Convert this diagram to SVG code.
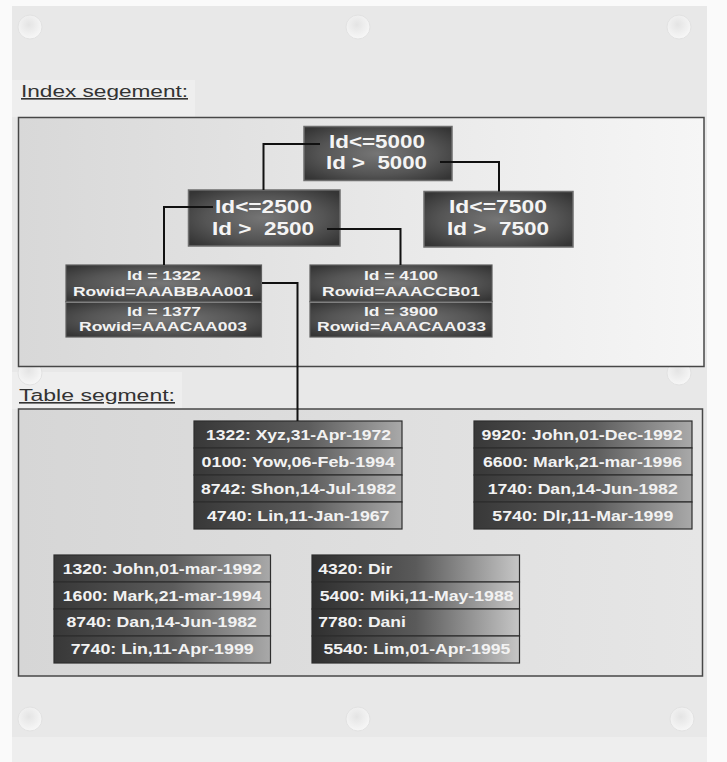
<svg xmlns="http://www.w3.org/2000/svg" width="727" height="762" viewBox="0 0 727 762">
<defs>
<style>
.lbl{font-family:"Liberation Sans",Arial,sans-serif;font-size:16px;fill:#333;text-decoration:underline}
.nt{font-family:"Liberation Sans",Arial,sans-serif;font-weight:bold;font-size:18px;fill:#f4f4f4;white-space:pre}
.lt{font-family:"Liberation Sans",Arial,sans-serif;font-weight:bold;font-size:13.5px;fill:#f2f2f2}
.tt{font-family:"Liberation Sans",Arial,sans-serif;font-weight:bold;font-size:14px;fill:#f2f2f2}
.node{fill:url(#rg);stroke:#6e6e6e;stroke-width:1.5}
.leaf{fill:url(#rg);stroke:#5e5e5e;stroke-width:1.2}
.row{fill:url(#lg);stroke:#2e2e2e;stroke-width:1.2}
.rowd{fill:url(#lgd);stroke:#2e2e2e;stroke-width:1.2}
.conn{fill:none;stroke:#111;stroke-width:2}
.bolt{fill:url(#bg);stroke:#e2e2e2;stroke-width:1}
</style>
<radialGradient id="rg" cx="50%" cy="50%" r="65%">
<stop offset="0" stop-color="#767676"/>
<stop offset="0.6" stop-color="#555"/>
<stop offset="1" stop-color="#353535"/>
</radialGradient>
<radialGradient id="bg" cx="45%" cy="40%" r="60%">
<stop offset="0" stop-color="#e4e4e4"/>
<stop offset="1" stop-color="#f7f7f7"/>
</radialGradient>
<linearGradient id="lg" x1="0" y1="0" x2="1" y2="0">
<stop offset="0" stop-color="#383838"/>
<stop offset="0.55" stop-color="#5c5c5c"/>
<stop offset="1" stop-color="#a9a9a9"/>
</linearGradient>
<linearGradient id="lgd" x1="0" y1="0" x2="1" y2="0">
<stop offset="0" stop-color="#2f2f2f"/>
<stop offset="0.5" stop-color="#5a5a5a"/>
<stop offset="1" stop-color="#c6c6c6"/>
</linearGradient>
<linearGradient id="boxg" x1="0" y1="0" x2="1" y2="0">
<stop offset="0" stop-color="#d8d8d8"/>
<stop offset="1" stop-color="#f6f6f6"/>
</linearGradient>
<linearGradient id="boxg2" x1="0" y1="0" x2="1" y2="0">
<stop offset="0" stop-color="#d6d6d6"/>
<stop offset="1" stop-color="#e6e6e6"/>
</linearGradient>
</defs>

<!-- background -->
<rect x="0" y="0" width="727" height="762" fill="#fafafa"/>
<rect x="12" y="6" width="695" height="756" fill="#e8e8e8"/>
<rect x="12" y="737" width="695" height="25" fill="#eeeeee"/>
<rect x="12" y="80" width="183" height="37" fill="#eeeeee"/>
<rect x="12" y="372" width="170" height="37" fill="#eeeeee"/>
<circle class="bolt" cx="30" cy="27" r="12"/>
<circle class="bolt" cx="358" cy="27" r="12"/>
<circle class="bolt" cx="679" cy="27" r="12"/>
<circle class="bolt" cx="30" cy="373" r="12"/>
<circle class="bolt" cx="679" cy="373" r="12"/>
<circle class="bolt" cx="30" cy="719" r="12"/>
<circle class="bolt" cx="358" cy="719" r="12"/>
<circle class="bolt" cx="682" cy="719" r="12"/>

<!-- segments -->
<g id="index-segment">
<text class="lbl" x="21" y="97" textLength="167" lengthAdjust="spacingAndGlyphs">Index segement:</text>
<rect x="18.5" y="117.5" width="685.5" height="249" fill="url(#boxg)" stroke="#474747" stroke-width="1.5"/>
</g>
<g id="table-segment">
<text class="lbl" x="19" y="401" textLength="156" lengthAdjust="spacingAndGlyphs">Table segment:</text>
<rect x="18.5" y="409" width="684" height="267" fill="url(#boxg2)" stroke="#474747" stroke-width="1.5"/>
</g>

<!-- index nodes -->
<g id="root">
<rect class="node" x="304" y="126.5" width="148" height="54"/>
<text class="nt" x="329" y="148" textLength="96" lengthAdjust="spacingAndGlyphs">Id&lt;=5000</text>
<text class="nt" x="326" y="169" textLength="101" lengthAdjust="spacingAndGlyphs">Id &gt;  5000</text>
</g>
<g id="n2500">
<rect class="node" x="188.5" y="190" width="151.5" height="56"/>
<text class="nt" x="215" y="213" textLength="97" lengthAdjust="spacingAndGlyphs">Id&lt;=2500</text>
<text class="nt" x="212" y="235" textLength="102" lengthAdjust="spacingAndGlyphs">Id &gt;  2500</text>
</g>
<g id="n7500">
<rect class="node" x="424" y="191.5" width="149" height="55.5"/>
<text class="nt" x="449" y="213" textLength="98" lengthAdjust="spacingAndGlyphs">Id&lt;=7500</text>
<text class="nt" x="447" y="235" textLength="102" lengthAdjust="spacingAndGlyphs">Id &gt;  7500</text>
</g>
<g id="leaf-left">
<rect class="leaf" x="66" y="265" width="195.5" height="36.5"/>
<rect class="leaf" x="66" y="301.5" width="195.5" height="35.5"/>
<line x1="66" y1="302.5" x2="261.5" y2="302.5" stroke="#808080" stroke-width="1"/>
<text class="lt" x="127" y="280" textLength="74" lengthAdjust="spacingAndGlyphs">Id = 1322</text>
<text class="lt" x="73" y="296" textLength="180" lengthAdjust="spacingAndGlyphs">Rowid=AAABBAA001</text>
<text class="lt" x="127" y="316" textLength="74" lengthAdjust="spacingAndGlyphs">Id = 1377</text>
<text class="lt" x="79" y="331" textLength="168" lengthAdjust="spacingAndGlyphs">Rowid=AAACAA003</text>
</g>
<g id="leaf-right">
<rect class="leaf" x="310" y="265" width="182" height="36.5"/>
<rect class="leaf" x="310" y="301.5" width="182" height="35.5"/>
<line x1="310" y1="302.5" x2="492" y2="302.5" stroke="#808080" stroke-width="1"/>
<text class="lt" x="364" y="280" textLength="74" lengthAdjust="spacingAndGlyphs">Id = 4100</text>
<text class="lt" x="322" y="296" textLength="158" lengthAdjust="spacingAndGlyphs">Rowid=AAACCB01</text>
<text class="lt" x="364" y="316" textLength="74" lengthAdjust="spacingAndGlyphs">Id = 3900</text>
<text class="lt" x="317" y="331" textLength="169" lengthAdjust="spacingAndGlyphs">Rowid=AAACAA033</text>
</g>

<!-- table blocks -->
<g id="block-a">
<rect class="row" x="194" y="421" width="208" height="27"/>
<rect class="row" x="194" y="448" width="208" height="27"/>
<rect class="row" x="194" y="475" width="208" height="27"/>
<rect class="row" x="194" y="502" width="208" height="27"/>
<text class="tt" x="206" y="439.5" textLength="185" lengthAdjust="spacingAndGlyphs">1322: Xyz,31-Apr-1972</text>
<text class="tt" x="201.5" y="466.5" textLength="193.5" lengthAdjust="spacingAndGlyphs">0100: Yow,06-Feb-1994</text>
<text class="tt" x="201" y="493.5" textLength="195" lengthAdjust="spacingAndGlyphs">8742: Shon,14-Jul-1982</text>
<text class="tt" x="207" y="520.5" textLength="182.5" lengthAdjust="spacingAndGlyphs">4740: Lin,11-Jan-1967</text>
</g>
<g id="block-b">
<rect class="row" x="474" y="421" width="218" height="27"/>
<rect class="row" x="474" y="448" width="218" height="27"/>
<rect class="row" x="474" y="475" width="218" height="27"/>
<rect class="row" x="474" y="502" width="218" height="27"/>
<text class="tt" x="481.6" y="439.5" textLength="201" lengthAdjust="spacingAndGlyphs">9920: John,01-Dec-1992</text>
<text class="tt" x="483" y="466.5" textLength="199" lengthAdjust="spacingAndGlyphs">6600: Mark,21-mar-1996</text>
<text class="tt" x="487.7" y="493.5" textLength="190" lengthAdjust="spacingAndGlyphs">1740: Dan,14-Jun-1982</text>
<text class="tt" x="492.3" y="520.5" textLength="181" lengthAdjust="spacingAndGlyphs">5740: Dlr,11-Mar-1999</text>
</g>
<g id="block-c">
<rect class="row" x="54" y="555" width="216.5" height="27"/>
<rect class="row" x="54" y="582" width="216.5" height="27"/>
<rect class="row" x="54" y="609" width="216.5" height="27"/>
<rect class="row" x="54" y="636" width="216.5" height="27"/>
<text class="tt" x="62.8" y="573.5" textLength="199" lengthAdjust="spacingAndGlyphs">1320: John,01-mar-1992</text>
<text class="tt" x="62.8" y="600.5" textLength="198.7" lengthAdjust="spacingAndGlyphs">1600: Mark,21-mar-1994</text>
<text class="tt" x="66.5" y="627" textLength="190.4" lengthAdjust="spacingAndGlyphs">8740: Dan,14-Jun-1982</text>
<text class="tt" x="70.7" y="654" textLength="183" lengthAdjust="spacingAndGlyphs">7740: Lin,11-Apr-1999</text>
</g>
<g id="block-d">
<rect class="rowd" x="312" y="555" width="207.5" height="27"/>
<rect class="rowd" x="312" y="582" width="207.5" height="27"/>
<rect class="rowd" x="312" y="609" width="207.5" height="27"/>
<rect class="rowd" x="312" y="636" width="207.5" height="27"/>
<text class="tt" x="318.3" y="573.5" textLength="74" lengthAdjust="spacingAndGlyphs">4320: Dir</text>
<text class="tt" x="319.7" y="600.5" textLength="194" lengthAdjust="spacingAndGlyphs">5400: Miki,11-May-1988</text>
<text class="tt" x="318.3" y="627" textLength="87.5" lengthAdjust="spacingAndGlyphs">7780: Dani</text>
<text class="tt" x="323.4" y="654" textLength="187" lengthAdjust="spacingAndGlyphs">5540: Lim,01-Apr-1995</text>
</g>

<!-- connectors -->
<g id="connectors">
<path class="conn" d="M320,144 H263.5 V190"/>
<path class="conn" d="M440,162 H499 V191.5"/>
<path class="conn" d="M213,207 H164 V265"/>
<path class="conn" d="M327,229 H400.5 V265"/>
<path class="conn" d="M262,283 H297.5 V421"/>
</g>
</svg>
